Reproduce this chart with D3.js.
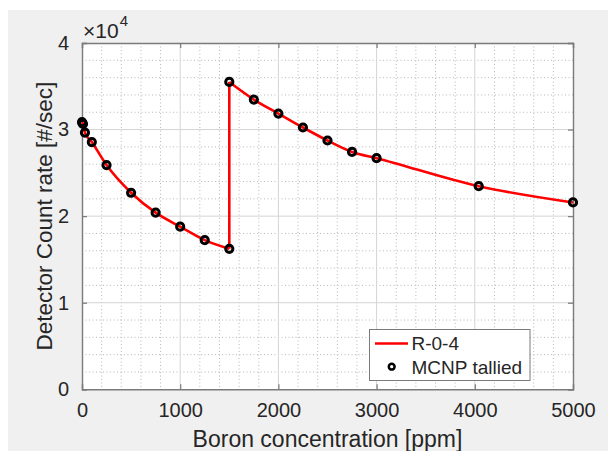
<!DOCTYPE html>
<html><head><meta charset="utf-8">
<script src="https://cdn.jsdelivr.net/npm/d3@7"></script>
<style>
html,body{margin:0;padding:0;background:#fff;}
svg{display:block;font-family:"Liberation Sans",Arial,Helvetica,sans-serif;}
</style></head>
<body>
<svg id="c" width="608" height="451"></svg>
<script>
// Data
const seg1X = [0, 10, 30, 100, 250, 500, 750, 1000, 1250, 1500];
const seg1Y = [30850, 30650, 29650, 28560, 25900, 22700, 20400, 18780, 17230, 16230];
const seg2X = [1500, 1750, 2000, 2250, 2500, 2750, 3000, 4040, 5000];
const seg2Y = [35500, 33470, 31850, 30240, 28740, 27420, 26700, 23460, 21580];
const xTicks = [0, 1000, 2000, 3000, 4000, 5000];
const yTicks = [0, 10000, 20000, 30000, 40000];
const yTickLabels = ["0", "1", "2", "3", "4"];
const seriesNames = ["R-0-4", "MCNP tallied"];

const svg = d3.select("#c");
const W = 608, H = 451;
const L = 82, R = 573, T = 43, B = 389.3;
const txt = "#262626";

svg.append("rect").attr("x", 8).attr("y", 10).attr("width", W - 8).attr("height", H - 10).attr("fill", "#f0f0f0");
svg.append("rect").attr("x", L).attr("y", T).attr("width", R - L).attr("height", B - T).attr("fill", "#fff");

const x = d3.scaleLinear().domain([0, 5000]).range([L, R]);
const y = d3.scaleLinear().domain([0, 40000]).range([B, T]);

// minor grid
const xMinor = d3.range(0, 5001, 200).filter(v => v % 1000 !== 0);
const yMinor = d3.range(0, 40001, 2000).filter(v => v % 10000 !== 0);
const g = svg.append("g");
g.selectAll(".xm").data(xMinor).join("line")
  .attr("x1", d => x(d)).attr("x2", d => x(d)).attr("y1", T).attr("y2", B)
  .attr("stroke", "#b0b0b0").attr("stroke-width", 0.9).attr("stroke-dasharray", "1,2.5");
g.selectAll(".ym").data(yMinor).join("line")
  .attr("y1", d => y(d)).attr("y2", d => y(d)).attr("x1", L).attr("x2", R)
  .attr("stroke", "#b0b0b0").attr("stroke-width", 0.9).attr("stroke-dasharray", "1,2.5");
// major grid
g.selectAll(".xg").data(xTicks.slice(1, -1)).join("line")
  .attr("x1", d => x(d)).attr("x2", d => x(d)).attr("y1", T).attr("y2", B)
  .attr("stroke", "#d4d4d4").attr("stroke-width", 1);
g.selectAll(".yg").data(yTicks.slice(1, -1)).join("line")
  .attr("y1", d => y(d)).attr("y2", d => y(d)).attr("x1", L).attr("x2", R)
  .attr("stroke", "#d4d4d4").attr("stroke-width", 1);

// axes
const axColor = "#7a7a7a";
const xAxB = svg.append("g").attr("transform", `translate(0,${B})`)
  .call(d3.axisBottom(x).tickValues(xTicks).tickSize(-5).tickPadding(14).tickFormat(d3.format("d")));
const xAxT = svg.append("g").attr("transform", `translate(0,${T})`)
  .call(d3.axisTop(x).tickValues(xTicks).tickSize(-5).tickFormat(""));
const yAxL = svg.append("g").attr("transform", `translate(${L},0)`)
  .call(d3.axisLeft(y).tickValues(yTicks).tickSize(-5).tickPadding(13).tickFormat((d, i) => yTickLabels[i]));
const yAxR = svg.append("g").attr("transform", `translate(${R},0)`)
  .call(d3.axisRight(y).tickValues(yTicks).tickSize(-5).tickFormat(""));
[xAxB, xAxT, yAxL, yAxR].forEach(a => {
  a.select(".domain").attr("stroke", axColor).attr("stroke-width", 1.4);
  a.selectAll(".tick line").attr("stroke", axColor).attr("stroke-width", 1.2);
  a.selectAll(".tick text").attr("fill", txt).style("font-size", "20px")
    .style("font-family", "'Liberation Sans',Arial,sans-serif");
});
xAxB.selectAll(".tick text").attr("dy", "0.71em");

// exponent label
const ex = svg.append("text").attr("x", 83).attr("y", 37.5).attr("fill", txt).style("font-size", "21px");
ex.append("tspan").text("×10");
ex.append("tspan").attr("dy", -12).attr("dx", 1).style("font-size", "15px").text("4");

// axis labels
svg.append("text").attr("x", (L + R) / 2).attr("y", 447).attr("text-anchor", "middle")
  .attr("fill", txt).style("font-size", "23px").text("Boron concentration [ppm]");
svg.append("text").attr("transform", `translate(52,${(T + B) / 2}) rotate(-90)`).attr("text-anchor", "middle")
  .attr("fill", txt).style("font-size", "22.5px").text("Detector Count rate [#/sec]");

// line
const d1 = seg1X.map((v, i) => [v, seg1Y[i]]);
const d2 = seg2X.map((v, i) => [v, seg2Y[i]]);
const line = d3.line().x(d => x(d[0])).y(d => y(d[1])).curve(d3.curveMonotoneX);
const plot = svg.append("g");
[d1, d2].forEach(d => plot.append("path").attr("d", line(d)).attr("fill", "none")
  .attr("stroke", "#ff0000").attr("stroke-width", 2.6).attr("stroke-linejoin", "round"));
plot.append("path").attr("d", d3.line().x(d => x(d[0])).y(d => y(d[1]))([d1[d1.length - 1], d2[0]]))
  .attr("stroke", "#ff0000").attr("stroke-width", 2.6).attr("fill", "none");

// markers
plot.selectAll(".m").data(d1.concat(d2)).join("circle")
  .attr("cx", d => x(d[0])).attr("cy", d => y(d[1])).attr("r", 3.6)
  .attr("fill", "none").attr("stroke", "#000").attr("stroke-width", 3);

// legend
const lg = svg.append("g");
lg.append("rect").attr("x", 369.5).attr("y", 329.5).attr("width", 160.5).attr("height", 51)
  .attr("fill", "#fff").attr("stroke", "#7a7a7a").attr("stroke-width", 1);
lg.append("line").attr("x1", 375).attr("x2", 408).attr("y1", 343.5).attr("y2", 343.5)
  .attr("stroke", "#ff0000").attr("stroke-width", 2.6);
lg.append("circle").attr("cx", 391.7).attr("cy", 366.7).attr("r", 2.9)
  .attr("fill", "none").attr("stroke", "#000").attr("stroke-width", 2.5);
lg.append("text").attr("x", 411.5).attr("y", 350).attr("fill", txt).style("font-size", "19px").text(seriesNames[0]);
lg.append("text").attr("x", 411.5).attr("y", 373.5).attr("fill", txt).style("font-size", "19px").text(seriesNames[1]);
</script>
</body></html>
